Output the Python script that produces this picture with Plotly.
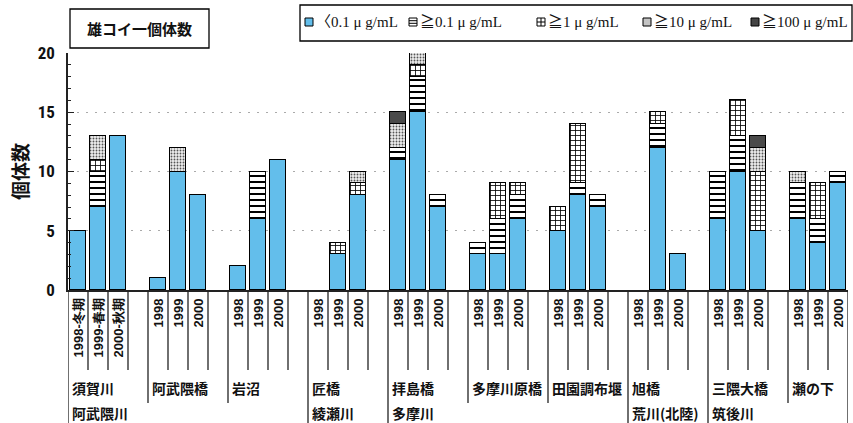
import plotly.graph_objects as go

# ---------------- data ----------------
sites = ["須賀川", "阿武隈橋", "岩沼", "匠橋", "拝島橋", "多摩川原橋", "田園調布堰", "旭橋", "三隈大橋", "瀬の下"]
rivers = ["阿武隈川", "綾瀬川", "多摩川", "荒川(北陸)", "筑後川"]
river_start_group = [0, 3, 4, 7, 8]
first_years = ["1998-冬期", "1999-春期", "2000-秋期"]
years = ["1998", "1999", "2000"]

series_names = ["〈0.1 μ g/mL", "≧0.1 μ g/mL", "≧1 μ g/mL", "≧10 μ g/mL", "≧100 μ g/mL"]
# values per bar, in order: site0 (1998,1999,2000), site1 (...), ...
lt01 = [5, 7, 13, 1, 10, 8, 2, 6, 11, 0, 3, 8, 11, 15, 7, 3, 3, 6, 5, 8, 7, 0, 12, 3, 6, 10, 5, 6, 4, 9]
ge01 = [0, 3, 0, 0, 0, 0, 0, 4, 0, 0, 0, 0, 1, 3, 1, 1, 3, 2, 0, 1, 1, 0, 2, 0, 4, 3, 0, 3, 2, 1]
ge1 = [0, 1, 0, 0, 0, 0, 0, 0, 0, 0, 1, 1, 0, 1, 0, 0, 3, 1, 2, 5, 0, 0, 1, 0, 0, 3, 5, 0, 3, 0]
ge10 = [0, 2, 0, 0, 2, 0, 0, 0, 0, 0, 0, 1, 2, 1, 0, 0, 0, 0, 0, 0, 0, 0, 0, 0, 0, 0, 2, 1, 0, 0]
ge100 = [0, 0, 0, 0, 0, 0, 0, 0, 0, 0, 0, 0, 1, 0, 0, 0, 0, 0, 0, 0, 0, 0, 0, 0, 0, 0, 1, 0, 0, 0]

# ---------------- layout constants ----------------
W, H = 853, 423
ML, MR, MT, MB = 68, 5, 53, 133
PW, PH = W - ML - MR, H - MT - MB


def px(x):
    return (x - ML) / PW


def py(y):
    return (H - MB - y) / PH


n_groups = len(sites)
slot = 4
xpos = [slot * g + b for g in range(n_groups) for b in range(3)]

BLUE = "#63BEEB"
CJK = "Noto Sans CJK JP, sans-serif"

styles = [
    dict(color=BLUE),
    dict(color="white", pattern=dict(shape="-", fgcolor="black", bgcolor="white", size=6, solidity=0.33, fillmode="replace")),
    dict(color="white", pattern=dict(shape="+", fgcolor="black", bgcolor="white", size=5, solidity=0.3, fillmode="replace")),
    dict(color="#d8d8d8", pattern=dict(shape=".", fgcolor="#555", bgcolor="#eeeeee", size=3, solidity=0.3, fillmode="replace")),
    dict(color="#4a4a4a"),
]

fig = go.Figure()
for name, vals, st in zip(series_names, [lt01, ge01, ge1, ge10, ge100], styles):
    fig.add_trace(go.Bar(
        x=xpos, y=[v if v else None for v in vals], name=name, width=0.78,
        marker=dict(line=dict(color="black", width=1.3), **st), showlegend=False,
    ))

shapes = []
annotations = []

# separator lines under the axis
y_short, y_site, y_river = py(370), py(403), py(423)
for g in range(n_groups):
    start = slot * g - 0.5
    bottom = y_river if g in river_start_group else y_site
    shapes.append(dict(type="line", xref="x", yref="paper", x0=start, x1=start, y0=0, y1=bottom,
                       line=dict(color="#222", width=1.3)))
    for k in range(1, 4):
        xx = start + k
        shapes.append(dict(type="line", xref="x", yref="paper", x0=xx, x1=xx, y0=0,
                           y1=(y_river if (g == n_groups - 1 and k == 3) else y_short),
                           line=dict(color="#222", width=1.3)))
    labels = first_years if g == 0 else years
    for b, lab in enumerate(labels):
        annotations.append(dict(x=slot * g + b, xref="x", y=py(297), yref="paper", text=lab,
                                textangle=-90, xanchor="center", yanchor="top", showarrow=False,
                                font=dict(family="Liberation Sans, Arial, sans-serif", size=13,
                                          color="#111", weight="bold")))
    annotations.append(dict(x=start, xref="x", xshift=2, y=py(388), yref="paper", text=sites[g],
                            xanchor="left", yanchor="middle", showarrow=False,
                            font=dict(family=CJK, size=14, color="#111", weight="bold")))
for r, g in zip(rivers, river_start_group):
    annotations.append(dict(x=slot * g - 0.5, xref="x", xshift=2, y=py(413), yref="paper", text=r,
                            xanchor="left", yanchor="middle", showarrow=False,
                            font=dict(family=CJK, size=14, color="#111", weight="bold")))

# title box
shapes.append(dict(type="rect", xref="paper", yref="paper", x0=px(70), x1=px(209), y0=py(48), y1=py(9),
                   line=dict(color="black", width=1.3), fillcolor="white"))
annotations.append(dict(x=px(139.5), y=py(29), xref="paper", yref="paper", text="<b>雄コイ一個体数</b>",
                        showarrow=False, xanchor="center", yanchor="middle",
                        font=dict(family=CJK, size=15, color="#111")))

# y axis title
annotations.append(dict(x=px(19), y=py(172), xref="paper", yref="paper", text="<b>個体数</b>",
                        textangle=-90, showarrow=False, xanchor="center", yanchor="middle",
                        font=dict(family=CJK, size=19, color="#111")))

# legend box
shapes.append(dict(type="rect", xref="paper", yref="paper", x0=px(300), x1=px(852), y0=py(41), y1=py(5),
                   line=dict(color="black", width=1.3), fillcolor="white"))
icon_x = [305, 409, 537, 643, 751]
ly = 22
for i, (name, x0) in enumerate(zip(series_names, icon_x)):
    x1 = x0 + 8
    fill = [BLUE, "white", "white", "#c4c4c4", "#444"][i]
    shapes.append(dict(type="rect", xref="paper", yref="paper", x0=px(x0), x1=px(x1), y0=py(ly + 4), y1=py(ly - 4),
                       line=dict(color="black", width=1), fillcolor=fill))
    if i == 1:
        for yy in (ly - 1.3, ly + 1.3):
            shapes.append(dict(type="line", xref="paper", yref="paper", x0=px(x0), x1=px(x1), y0=py(yy), y1=py(yy),
                               line=dict(color="black", width=1)))
    if i == 2:
        shapes.append(dict(type="line", xref="paper", yref="paper", x0=px(x0), x1=px(x1), y0=py(ly), y1=py(ly),
                           line=dict(color="black", width=1)))
        shapes.append(dict(type="line", xref="paper", yref="paper", x0=px(x0 + 4), x1=px(x0 + 4), y0=py(ly - 4), y1=py(ly + 4),
                           line=dict(color="black", width=1)))
    annotations.append(dict(x=px(x1 + 1), y=py(ly), xref="paper", yref="paper", text=name, showarrow=False,
                            xanchor="left", yanchor="middle",
                            font=dict(family="Liberation Serif, Noto Sans CJK JP, serif", size=15, color="#111")))

fig.update_layout(
    width=W, height=H, margin=dict(l=ML, r=MR, t=MT, b=MB),
    paper_bgcolor="white", plot_bgcolor="white",
    barmode="stack", bargap=0, showlegend=False,
    shapes=shapes, annotations=annotations,
    xaxis=dict(range=[-0.5, slot * n_groups - 1.5], showline=True, linecolor="#222", linewidth=2,
               showgrid=False, zeroline=False, showticklabels=False, ticks=""),
    yaxis=dict(range=[0, 20], showline=True, linecolor="#222", linewidth=1.5, zeroline=False,
               tickvals=[0, 5, 10, 15, 20], ticks="inside", ticklen=6, tickwidth=1, tickcolor="#222",
               minor=dict(ticks="inside", ticklen=3, dtick=1, tickcolor="#222", showgrid=False),
               showgrid=True, gridcolor="#aaa", griddash="2px,7px", gridwidth=1,
               ticklabelstandoff=8,
               tickfont=dict(family="Liberation Sans Narrow, Arial Narrow, Roboto Condensed, sans-serif",
                             size=17, color="#111", weight="bold")),
)

fig.write_html("out.html")
